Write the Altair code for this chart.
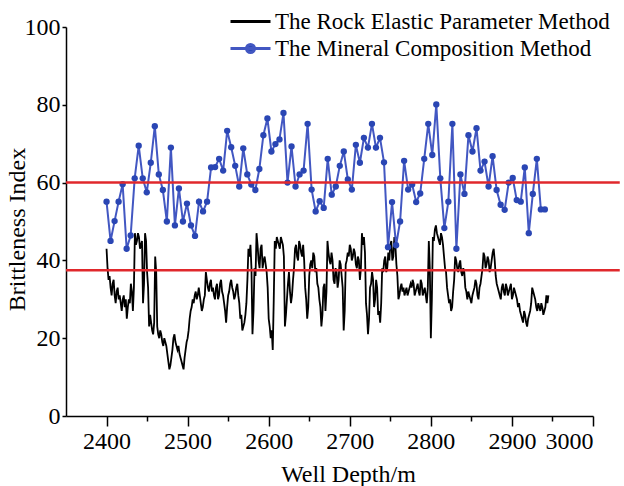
import altair as alt
import pandas as pd

# ---- data ----
series_names = ["The Rock Elastic Parameter Method", "The Mineral Composition Method"]

blue_values = [55.1, 45.0, 50.1, 55.1, 59.6, 43.0, 46.4, 61.1, 69.5, 61.1,
               57.5, 65.1, 74.5, 62.1, 58.1, 50.0, 69.0, 49.0, 58.5, 50.0,
               54.6, 49.0, 46.3, 55.1, 52.6, 55.1, 63.9, 64.0, 66.1, 63.1,
               73.3, 69.1, 64.3, 59.0, 68.8, 62.1, 59.5, 58.1, 63.5, 72.2,
               76.5, 68.0, 69.9, 71.1, 77.9, 60.0, 69.3, 59.0, 62.1, 63.1,
               75.1, 58.2, 52.6, 55.2, 53.5, 66.1, 56.9, 59.0, 64.3, 68.0,
               60.8, 58.2, 69.7, 65.1, 71.5, 69.0, 75.1, 69.0, 71.5, 65.2,
               43.4, 55.0, 43.9, 50.0, 65.6, 58.2, 59.5, 55.0, 57.2, 66.1,
               75.1, 67.1, 80.1, 61.1, 48.3, 55.1, 75.1, 43.0, 62.1, 57.1,
               72.2, 68.0, 74.0, 63.1, 65.4, 59.0, 66.8, 58.1, 54.3, 53.0,
               60.0, 61.2, 55.5, 55.1, 63.9, 47.0, 57.1, 66.1, 53.1, 53.1]
blue_depth = [round(2400 + 4.96 * i, 2) for i in range(len(blue_values))]

# black log read at 2.5 m steps ...
black_values = [43, 35, 33, 34, 31, 32, 30, 29, 30, 28,
                25, 30, 34, 27, 47, 45, 46, 44, 29, 47,
                37, 23, 24, 21, 41, 23, 20, 21, 18, 19,
                16, 12, 15, 20, 19, 17, 16, 14, 12, 17,
                20, 25, 28, 29, 32, 31, 31, 27, 30, 37,
                33, 34, 32, 31, 33, 30, 34, 32, 29, 24,
                31, 34, 33, 30, 33, 31, 25, 22, 24, 29,
                43, 44, 21, 38, 47, 40, 43, 38, 41, 37,
                25, 20, 17, 45, 46, 44, 46, 44, 23, 30,
                37, 29, 35, 43, 41, 45, 42, 44, 33, 25,
                36, 40, 42, 37, 34, 30, 23, 33, 27, 45,
                40, 42, 35, 38, 33, 40, 36, 22, 39, 42,
                44, 40, 43, 39, 41, 35, 47, 46, 29, 21,
                33, 37, 28, 35, 26, 24, 38, 40, 37, 42,
                44, 40, 46, 39, 30, 33, 32, 31, 33, 32,
                34, 35, 31, 33, 32, 35, 31, 33, 29, 45,
                20, 46, 48, 47, 45, 47, 44, 38, 33, 29,
                27, 32, 41, 38, 39, 37, 38, 33, 30, 31,
                29, 32, 35, 31, 33, 36, 42, 38, 41, 37,
                40, 43, 36, 33, 31, 33, 32, 34, 31, 33,
                30, 33, 31, 28, 27, 25, 27, 24, 25, 27,
                33, 31, 28, 29, 27, 28, 27, 31, 31]
black_depth = [2400 + 2.5 * i for i in range(len(black_values))]

# ... and the fine wiggles read between them
black_mid_values = [38, 36, 31, 35, 29, 33, 31, 27, 31, 30,
                    28, 29, 32, 33, 44, 47, 43, 45, 34, 45,
                    33, 26, 22, 24, 37, 21, 22, 19, 20, 18,
                    14, 13, 17, 21, 18, 18, 15, 13, 15, 19,
                    22, 27, 30, 31, 30, 33, 29, 28, 31, 35,
                    32, 35, 33, 30, 34, 31, 35, 31, 27, 28,
                    32, 35, 32, 31, 34, 29, 26, 23, 26, 35,
                    41, 38, 27, 36, 44, 38, 44, 40, 39, 33,
                    23, 22, 30, 43, 45, 43, 45, 41, 26, 34,
                    32, 31, 38, 44, 40, 44, 41, 40, 30, 28,
                    39, 38, 41, 38, 33, 28, 26, 34, 32, 42,
                    39, 40, 34, 37, 35, 39, 33, 27, 40, 41,
                    43, 41, 42, 38, 40, 38, 44, 42, 26, 25,
                    34, 35, 30, 33, 27, 29, 37, 41, 38, 40,
                    45, 41, 44, 36, 31, 34, 33, 32, 31, 33,
                    33, 34, 32, 34, 31, 34, 32, 31, 33, 38,
                    30, 45, 49, 46, 44, 46, 41, 37, 31, 30,
                    28, 35, 40, 37, 40, 36, 37, 32, 32, 30,
                    31, 33, 34, 30, 34, 38, 41, 39, 40, 38,
                    42, 40, 34, 32, 30, 34, 31, 33, 32, 34,
                    31, 32, 30, 29, 26, 24, 26, 23, 26, 29,
                    32, 30, 27, 28, 29, 26, 28, 29]
black_mid_depth = [2401.25 + 2.5 * i for i in range(len(black_mid_values))]

ref_levels = [60, 37.5]
ref_start = [2350, 2350]
ref_end = [3033, 3033]

x_ticks = list(range(2400, 3001, 50))
y_ticks = list(range(0, 101, 10))

# ---- tables ----
black_df = pd.concat([
    pd.DataFrame({"depth": black_depth, "value": black_values}),
    pd.DataFrame({"depth": black_mid_depth, "value": black_mid_values}),
]).sort_values("depth").reset_index(drop=True)
black_df["series"] = series_names[0]
blue_df = pd.DataFrame({"depth": blue_depth, "value": blue_values, "series": series_names[1]})
ref_df = pd.DataFrame({"y": ref_levels, "x0": ref_start, "x1": ref_end})

FONT = "Liberation Serif"
BLUE_LINE = "#4257c2"
BLUE_PT = "#2a46b4"

xscale = alt.Scale(domain=[2350, 3000], nice=False, zero=False)
yscale = alt.Scale(domain=[0, 100], nice=False)

xaxis = alt.Axis(values=x_ticks, format="d",
                 labelExpr="datum.value % 100 === 0 ? datum.label : ''",
                 tickSize={"condition": {"test": "datum.value % 100 === 0", "value": 10}, "value": 5},
                 grid=False, domainColor="black", tickColor="black", domainWidth=1.5, tickWidth=1.5,
                 labelFont=FONT, labelFontSize=24, labelColor="black", labelPadding=3,
                 title="Well Depth/m", titleFont=FONT, titleFontSize=24, titleFontWeight="normal",
                 titleColor="black", titleX=282, titleY=65, titleBaseline="alphabetic")
yaxis = alt.Axis(values=y_ticks, format="d",
                 labelExpr="datum.value % 20 === 0 ? datum.label : ''",
                 tickSize=4,
                 grid=False, domainColor="black", tickColor="black", domainWidth=1.5, tickWidth=1.5,
                 labelFont=FONT, labelFontSize=24, labelColor="black", labelPadding=2,
                 title="Brittleness Index", titleFont=FONT, titleFontSize=24, titleFontWeight="normal",
                 titleColor="black", titleX=-49, titleY=202, titleBaseline="middle")

legend_black = alt.Legend(title=None, orient="none", legendX=163, legendY=-27,
                          symbolType="stroke", symbolSize=1600, symbolStrokeWidth=3,
                          labelFont=FONT, labelFontSize=23, labelColor="black", labelOffset=3,
                          labelLimit=500, padding=0)
legend_blue = alt.Legend(title=None, orient="none", legendX=163, legendY=0,
                         symbolType="M-1,0L1,0M-0.2,0A0.2,0.2,0,1,1,0.2,0A0.2,0.2,0,1,1,-0.2,0Z",
                         symbolSize=1600, symbolStrokeWidth=3, symbolFillColor=BLUE_PT,
                         labelFont=FONT, labelFontSize=23, labelColor="black", labelOffset=3,
                         labelLimit=500, padding=0)

black = alt.Chart(black_df).mark_line(strokeWidth=1.8).encode(
    x=alt.X("depth:Q", scale=xscale, axis=xaxis),
    y=alt.Y("value:Q", scale=yscale, axis=yaxis),
    color=alt.Color("series:N", scale=alt.Scale(domain=[series_names[0]], range=["#000000"]),
                    legend=legend_black))

blue = alt.Chart(blue_df).mark_line(strokeWidth=2).encode(
    x=alt.X("depth:Q", scale=xscale),
    y=alt.Y("value:Q", scale=yscale),
    stroke=alt.Stroke("series:N", scale=alt.Scale(domain=[series_names[1]], range=[BLUE_LINE]),
                      legend=legend_blue))

blue_pts = alt.Chart(blue_df).mark_circle(size=40, opacity=1, color=BLUE_PT).encode(
    x=alt.X("depth:Q", scale=xscale),
    y=alt.Y("value:Q", scale=yscale))

refs = alt.Chart(ref_df).mark_rule(color="#e0282c", strokeWidth=2.5).encode(
    x=alt.X("x0:Q", scale=xscale),
    x2="x1:Q",
    y=alt.Y("y:Q", scale=yscale))

chart = alt.layer(black, blue, blue_pts, refs).resolve_scale(
    color="independent", stroke="independent"
).properties(
    width=527, height=389,
    autosize=alt.AutoSizeParams(type="none"),
    padding={"left": 66, "top": 27, "right": 31, "bottom": 70},
    background="white"
).configure_view(stroke=None)

chart.save("out.html", embed_options={"renderer": "svg", "actions": False})
